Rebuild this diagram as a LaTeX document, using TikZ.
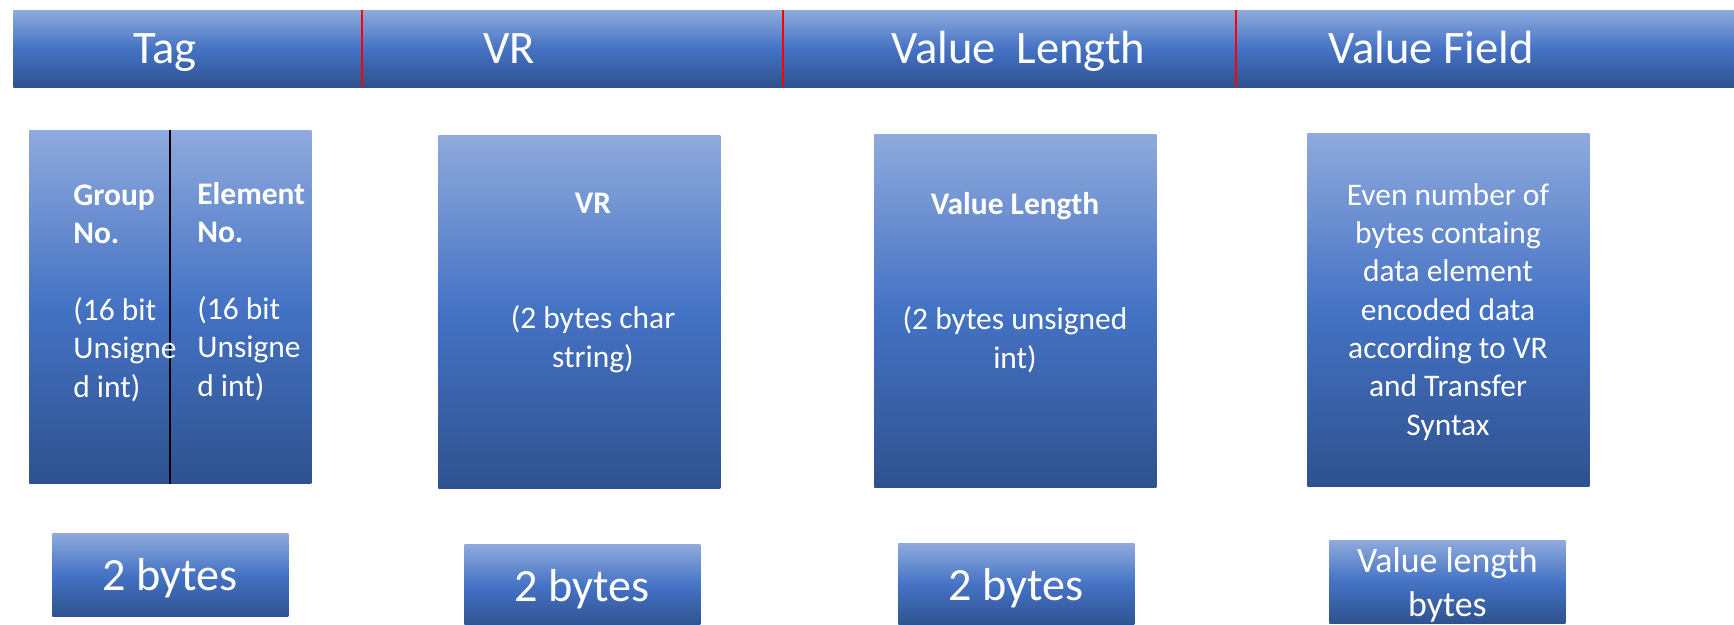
\documentclass[tikz,border=0pt]{standalone}
\usepackage{fontspec}
\setmainfont{Carlito}
\usetikzlibrary{positioning}

\definecolor{bluelight}{RGB}{143,170,220}
\definecolor{bluemid}{RGB}{68,114,196}
\definecolor{bluedark}{RGB}{47,82,143}

\tikzset{
  shadebox/.style={top color=bluelight, bottom color=bluedark, middle color=bluemid,
    draw=none, inner sep=0pt, anchor=north west},
  fieldbox/.style={shadebox, minimum width=5.64cm, minimum height=7.06cm},
  bytebox/.style={shadebox, minimum width=4.72cm, minimum height=1.66cm, text=white,
    align=center, text depth=0pt, font=\fontsize{26.3}{32}\selectfont},
  headlabel/.style={text=white, inner sep=0pt, anchor=base west, font=\fontsize{26.5}{32}\selectfont},
  boxlabel/.style={text=white, inner sep=0pt, anchor=base, align=center,
    font=\fontsize{17.9}{21.8}\selectfont},
  divider/.style={line width=1.2pt}
}

\begin{document}
\begin{tikzpicture}[x=0.02cm, y=-0.02cm]
  \useasboundingbox (0,0) rectangle (1734,625);
  % Header bar
  \node[shadebox, minimum width=34.42cm, minimum height=1.54cm] (bar) at (13,10) {};
  \draw[divider, red] (362,10) -- (362,87);
  \draw[divider, red] (783,10) -- (783,87);
  \draw[divider, red] (1236,10) -- (1236,87);
  \node[headlabel] (tagHead) at (133,64) {Tag};
  \node[headlabel] (vrHead) at (483,64) {VR};
  \node[headlabel] (lenHead) at (891,64) {Value\ \ Length};
  \node[headlabel] (fieldHead) at (1328,64) {Value Field};
  % Field boxes
  \node[fieldbox] (tagBox) at (29,130) {};
  \node[fieldbox] (vrBox) at (438,135) {};
  \node[fieldbox] (lenBox) at (874,134) {};
  \node[fieldbox] (fieldBox) at (1307,133) {};
  \draw[divider, black] (tagBox.north) -- (tagBox.south);
  % Box texts (base = last line)
  \node[boxlabel, anchor=base west, align=left] (groupText) at (73,397)
    {\textbf{Group}\\\textbf{No.}\\[21.8pt](16 bit\\Unsigne\\d int)};
  \node[boxlabel, anchor=base west, align=left] (elemText) at (197,396)
    {\textbf{Element}\\\textbf{No.}\\[21.8pt](16 bit\\Unsigne\\d int)};
  \node[boxlabel] (vrText) at (593,367) {\textbf{VR}\\[43.6pt](2 bytes char\\string)};
  \node[boxlabel] (lenText) at (1015,368) {\textbf{Value Length}\\[43.6pt](2 bytes unsigned\\int)};
  \node[boxlabel] (fieldText) at (1448,435) {Even number of\\bytes containg\\data element\\encoded data\\according to VR\\and Transfer\\Syntax};
  % Size boxes
  \node[bytebox] (tagBytes) at (52,533) {2 bytes};
  \node[bytebox] (vrBytes) at (464,544) {2 bytes};
  \node[bytebox] (lenBytes) at (898,543) {2 bytes};
  \node[bytebox, font=\fontsize{20.4}{25}\selectfont] (fieldBytes) at (1329,540) {Value length\\bytes};
\end{tikzpicture}
\end{document}
